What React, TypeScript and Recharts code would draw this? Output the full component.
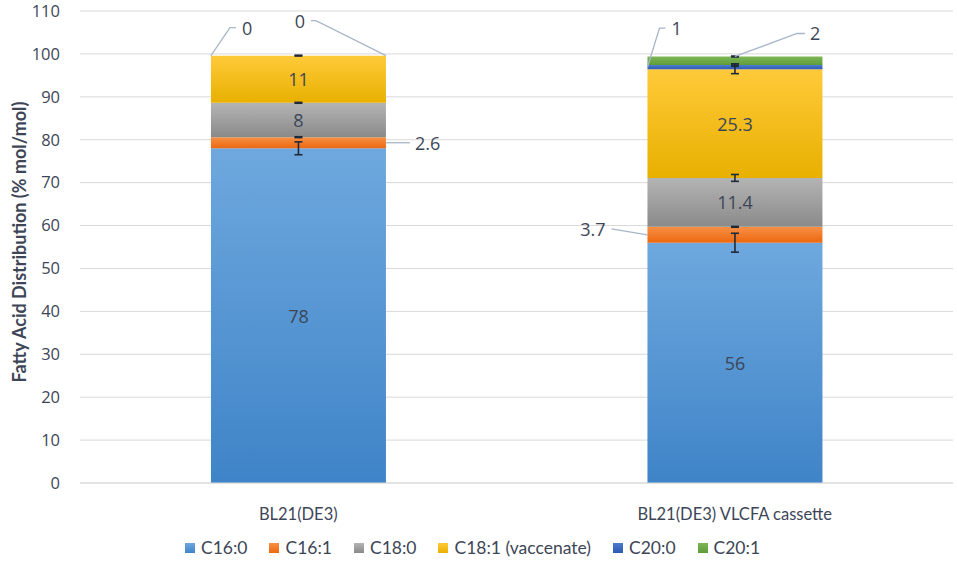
import {
  Bar, BarChart, CartesianGrid, ErrorBar, LabelList, XAxis, YAxis,
} from 'recharts';

const strains = ['BL21(DE3)', 'BL21(DE3) VLCFA cassette'];

const c160 = [78, 56];
const c160Err = [1.5, 2.2];
const c161 = [2.6, 3.7];
const c161Err = [0.1, 0.1];
const c180 = [8, 11.4];
const c180Err = [0.1, 0.8];
const c181 = [11, 25.3];
const c181Err = [0.1, 1.0];
const c200 = [0, 1];
const c200Err = [0, 0.3];
const c201 = [0, 2];
const c201Err = [0, 0.1];

const yTicks = [0, 10, 20, 30, 40, 50, 60, 70, 80, 90, 100, 110];

const rows = strains.map((s, i) => ({
  strain: s,
  c160: c160[i], c160Err: c160Err[i],
  c161: c161[i], c161Err: c161Err[i],
  c180: c180[i], c180Err: c180Err[i],
  c181: c181[i], c181Err: c181Err[i],
  c200: c200[i], c200Err: c200Err[i],
  c201: c201[i], c201Err: c201Err[i],
}));

const TEXT_FONT = 'Lato, "Open Sans", sans-serif';
const NUM_FONT = '"Open Sans", Lato, sans-serif';
const TEXT = '#3d4657';
const LEADER = '#a9b6c8';
const ERR = '#1f2a3a';

const SERIES = [
  { key: 'c160', name: 'C16:0', top: '#6ea8de', bottom: '#3f84c8', inside: true },
  { key: 'c161', name: 'C16:1', top: '#f79046', bottom: '#ec6810', inside: false },
  { key: 'c180', name: 'C18:0', top: '#b4b4b4', bottom: '#8a8a8a', inside: true },
  { key: 'c181', name: 'C18:1 (vaccenate)', top: '#ffca3a', bottom: '#e8b000', inside: true },
  { key: 'c200', name: 'C20:0', top: '#4c7bd0', bottom: '#2c5ab4', inside: false },
  { key: 'c201', name: 'C20:1', top: '#7db754', bottom: '#5e9c39', inside: false },
];

// leader-line callouts: anchor as fraction of the segment rect, elbow offset, tail length
type Callout = { fx: number; fy: number; ex: number; ey: number; tail: number; gap: number };
const CALLOUTS: Record<string, Callout[]> = {
  c161: [
    { fx: 1, fy: 0.5, ex: 24, ey: 0, tail: 0, gap: 5 },
    { fx: 0, fy: 0.5, ex: -36, ey: -6, tail: 0, gap: -6 },
  ],
  c200: [
    { fx: 0, fy: 0, ex: 19, ey: -28, tail: 6, gap: 6 },
    { fx: 0, fy: 0.5, ex: 12, ey: -39, tail: 6, gap: 6 },
  ],
  c201: [
    { fx: 1, fy: 0, ex: -70, ey: -35, tail: -5, gap: -6 },
    { fx: 0.5, fy: 0, ex: 62, ey: -23, tail: 8, gap: 5 },
  ],
};

function rectOf(p: any) {
  const vb = p.viewBox || {};
  return {
    x: Number(p.x ?? vb.x ?? 0),
    y: Number(p.y ?? vb.y ?? 0),
    w: Number(p.width ?? vb.width ?? 0),
    h: Number(p.height ?? vb.height ?? 0),
  };
}

// recharts drops zero-height segments from the label list, so map back to the row
function rowIndex(key: string, p: any) {
  const strain = p.payload?.strain;
  if (strain != null) return strains.indexOf(strain);
  const vals = rows.map((r: any) => r[key]);
  const kept = vals.map((v, i) => (v ? i : -1)).filter((i) => i >= 0);
  return kept[p.index] ?? p.index;
}

function InsideLabel(p: any) {
  const { x, y, w, h } = rectOf(p);
  return (
    <text x={x + w / 2} y={y + h / 2} textAnchor="middle" dominantBaseline="central"
      fontFamily={NUM_FONT} fontSize={18} fill={TEXT}>
      {p.value}
    </text>
  );
}

function drawCallout(spec: Callout, r: { x: number; y: number; w: number; h: number }, value: any) {
  const ax = r.x + r.w * spec.fx;
  const ay = r.y + r.h * spec.fy;
  const bx = ax + spec.ex;
  const by = ay + spec.ey;
  const cx = bx + spec.tail;
  const tx = cx + spec.gap;
  return (
    <g>
      <polyline points={`${ax},${ay} ${bx},${by} ${cx},${by}`} fill="none" stroke={LEADER} strokeWidth={1.3} />
      <text x={tx} y={by} textAnchor={spec.gap < 0 ? 'end' : 'start'} dominantBaseline="central"
        fontFamily={NUM_FONT} fontSize={18} fill={TEXT}>
        {value}
      </text>
    </g>
  );
}

function makeCallout(key: string) {
  return function CalloutLabel(p: any) {
    if (!p.value) return null;
    const spec = CALLOUTS[key]?.[rowIndex(key, p)];
    if (!spec) return null;
    return drawCallout(spec, rectOf(p), p.value);
  };
}

// zero-valued top segments have no rect, so hang their callouts off the top of C18:1
function ZeroTopCallouts(p: any) {
  const i = rowIndex('c181', p);
  const row: any = rows[i];
  if (!row) return null;
  const { x, y, w } = rectOf(p);
  const top = { x, y, w, h: 0 };
  return (
    <g>
      {['c200', 'c201'].filter((k) => row[k] === 0).map((k) => (
        <g key={k}>{drawCallout(CALLOUTS[k][i], top, row[k])}</g>
      ))}
    </g>
  );
}

function YTitle(p: any) {
  const vb = p.viewBox || { y: 0, height: 0 };
  const cy = vb.y + vb.height / 2 - 5;
  return (
    <text x={19} y={cy} transform={`rotate(-90 19 ${cy})`} textAnchor="middle" dominantBaseline="central"
      fontFamily={TEXT_FONT} fontSize={18} fontWeight={700} fill={TEXT}>
      Fatty Acid Distribution (% mol/mol)
    </text>
  );
}

function LegendRow() {
  return (
    <div style={{
      position: 'absolute', left: 0, top: 537, width: 957, display: 'flex', justifyContent: 'center',
      gap: 22, fontFamily: TEXT_FONT, fontSize: 17.5, color: TEXT, paddingRight: 12, boxSizing: 'border-box',
    }}>
      {SERIES.map((s) => (
        <div key={s.key} style={{ display: 'flex', alignItems: 'center', gap: 6 }}>
          <span style={{ width: 10, height: 10, background: `linear-gradient(${s.top}, ${s.bottom})` }} />
          <span>{s.name}</span>
        </div>
      ))}
    </div>
  );
}

export default function App() {
  return (
    <div style={{ position: 'absolute', left: 0, top: 0, width: 957, height: 563, background: '#fff' }}>
      <BarChart width={957} height={563} data={rows} barCategoryGap="30%"
        margin={{ top: 11, right: 4, left: 0, bottom: 50 }}>
        <defs>
          {SERIES.map((s) => (
            <linearGradient key={s.key} id={`g-${s.key}`} x1="0" y1="0" x2="0" y2="1">
              <stop offset="0%" stopColor={s.top} />
              <stop offset="100%" stopColor={s.bottom} />
            </linearGradient>
          ))}
        </defs>
        <CartesianGrid vertical={false} stroke="#d9d9d9" />
        <XAxis dataKey="strain" tickLine={false} axisLine={{ stroke: '#d9d9d9' }} tickMargin={19}
          tick={{ fontFamily: TEXT_FONT, fontSize: 16.5, fill: TEXT }} />
        <YAxis domain={[0, 110]} ticks={yTicks} width={80} tickLine={false} axisLine={false}
          tickSize={0} tickMargin={20} interval={0}
          tick={{ fontFamily: NUM_FONT, fontSize: 16.5, fill: TEXT }}
          label={<YTitle />} />
        {SERIES.map((s) => (
          <Bar key={s.key} dataKey={s.key} name={s.name} stackId="fa" fill={`url(#g-${s.key})`}
            isAnimationActive={false}>
            <ErrorBar dataKey={`${s.key}Err`} direction="y" width={4} stroke={ERR} strokeWidth={1.6} />
            <LabelList dataKey={s.key} content={s.inside ? InsideLabel : makeCallout(s.key)} />
            {s.key === 'c181' && <LabelList dataKey="c181" content={ZeroTopCallouts} />}
          </Bar>
        ))}
      </BarChart>
      <LegendRow />
    </div>
  );
}
